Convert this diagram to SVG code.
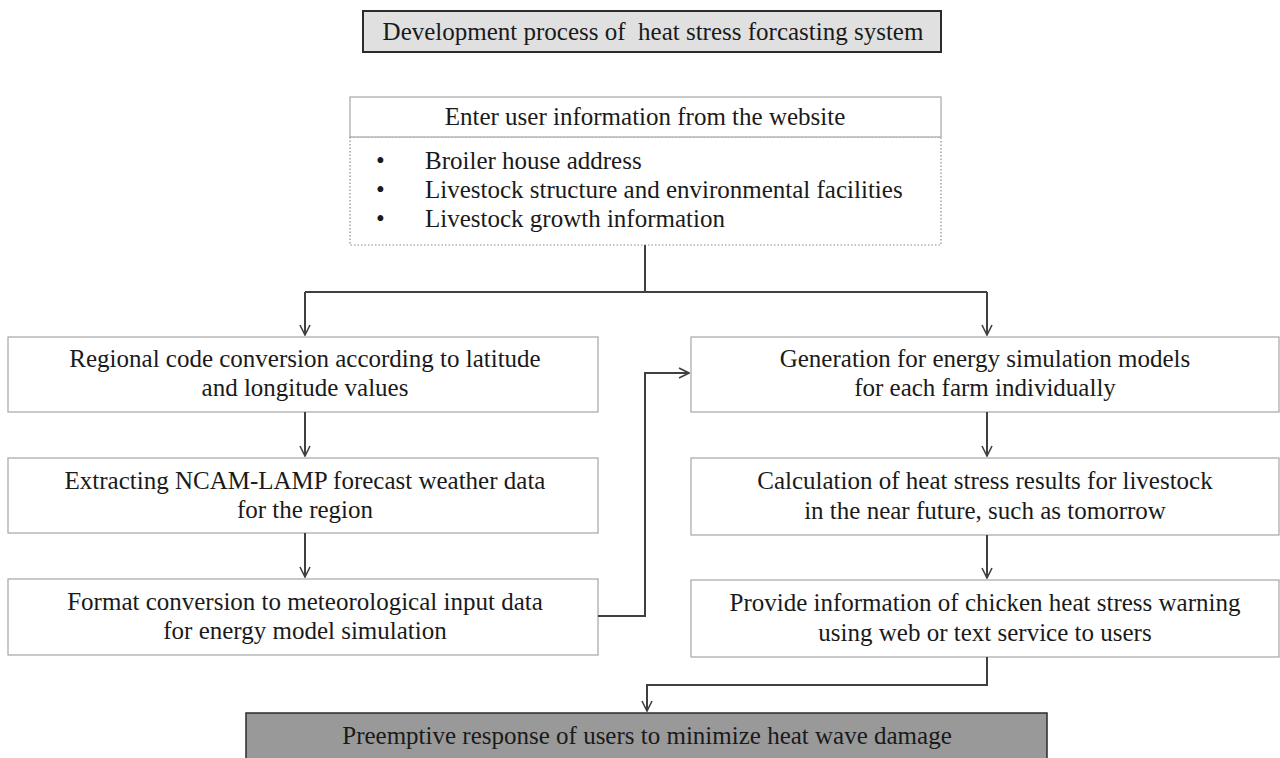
<svg xmlns="http://www.w3.org/2000/svg" width="1280" height="758" viewBox="0 0 1280 758">
  <style>
    text { font-family: "Liberation Serif", "Times New Roman", serif; font-size: 25px; fill: #1a1a1a; }
    .c { text-anchor: middle; }
    .box { fill: #ffffff; stroke: #a6a6a6; stroke-width: 1.2; }
    .dotted { fill: #ffffff; stroke: #8c8c8c; stroke-width: 1.2; stroke-dasharray: 1.5 2; }
    .conn { fill: none; stroke: #404040; stroke-width: 2; }
  </style>
  <defs>
    <marker id="arrow" viewBox="0 0 12 12" refX="11" refY="6" markerWidth="12" markerHeight="12" markerUnits="userSpaceOnUse" orient="auto">
      <path d="M1,1 L11,6 L1,11" fill="none" stroke="#404040" stroke-width="1.6"/>
    </marker>
  </defs>

  <!-- title -->
  <g id="title">
    <rect x="363" y="11" width="578" height="41" fill="#e0e0e0" stroke="#2b2b2b" stroke-width="2"/>
    <text class="c" x="653" y="40" style="white-space:pre">Development process of  heat stress forcasting system</text>
  </g>

  <!-- user input -->
  <g id="user-input">
    <rect class="dotted" x="350" y="137" width="591" height="108"/>
    <rect class="box" x="350" y="97" width="591" height="40"/>
    <text class="c" x="645" y="125">Enter user information from the website</text>
    <text x="376" y="169">•</text>
    <text x="425" y="169">Broiler house address</text>
    <text x="376" y="198">•</text>
    <text x="425" y="198">Livestock structure and environmental facilities</text>
    <text x="376" y="227">•</text>
    <text x="425" y="227">Livestock growth information</text>
  </g>

  <!-- left column -->
  <g id="region-code">
    <rect class="box" x="8" y="337" width="590" height="75"/>
    <text class="c" x="305" y="367">Regional code conversion according to latitude</text>
    <text class="c" x="305" y="396">and longitude values</text>
  </g>
  <g id="extract-weather">
    <rect class="box" x="8" y="458" width="590" height="75"/>
    <text class="c" x="305" y="489">Extracting NCAM-LAMP forecast weather data</text>
    <text class="c" x="305" y="518">for the region</text>
  </g>
  <g id="format-conversion">
    <rect class="box" x="8" y="579" width="590" height="76"/>
    <text class="c" x="305" y="610">Format conversion to meteorological input data</text>
    <text class="c" x="305" y="639">for energy model simulation</text>
  </g>

  <!-- right column -->
  <g id="model-generation">
    <rect class="box" x="691" y="337" width="588" height="75"/>
    <text class="c" x="985" y="367">Generation for energy simulation models</text>
    <text class="c" x="985" y="396">for each farm individually</text>
  </g>
  <g id="heat-stress-calc">
    <rect class="box" x="691" y="458" width="588" height="77"/>
    <text class="c" x="985" y="489">Calculation of heat stress results for livestock</text>
    <text class="c" x="985" y="519">in the near future, such as tomorrow</text>
  </g>
  <g id="warning-service">
    <rect class="box" x="691" y="580" width="588" height="77"/>
    <text class="c" x="985" y="611">Provide information of chicken heat stress warning</text>
    <text class="c" x="985" y="641">using web or text service to users</text>
  </g>

  <!-- final outcome -->
  <g id="response">
    <rect x="246" y="713" width="801" height="60" fill="#999999" stroke="#2b2b2b" stroke-width="1.5"/>
    <text class="c" x="647" y="744">Preemptive response of users to minimize heat wave damage</text>
  </g>

  <!-- connectors -->
  <g id="connectors">
    <path class="conn" d="M645,245 V292"/>
    <path class="conn" d="M305,292 H987"/>
    <path class="conn" d="M305,292 V335" marker-end="url(#arrow)"/>
    <path class="conn" d="M987,292 V335" marker-end="url(#arrow)"/>
    <path class="conn" d="M305,412 V456" marker-end="url(#arrow)"/>
    <path class="conn" d="M305,533 V577" marker-end="url(#arrow)"/>
    <path class="conn" d="M598,616 H645 V373 H689" marker-end="url(#arrow)"/>
    <path class="conn" d="M987,412 V456" marker-end="url(#arrow)"/>
    <path class="conn" d="M987,535 V578" marker-end="url(#arrow)"/>
    <path class="conn" d="M987,657 V685 H647 V711" marker-end="url(#arrow)"/>
  </g>
</svg>
